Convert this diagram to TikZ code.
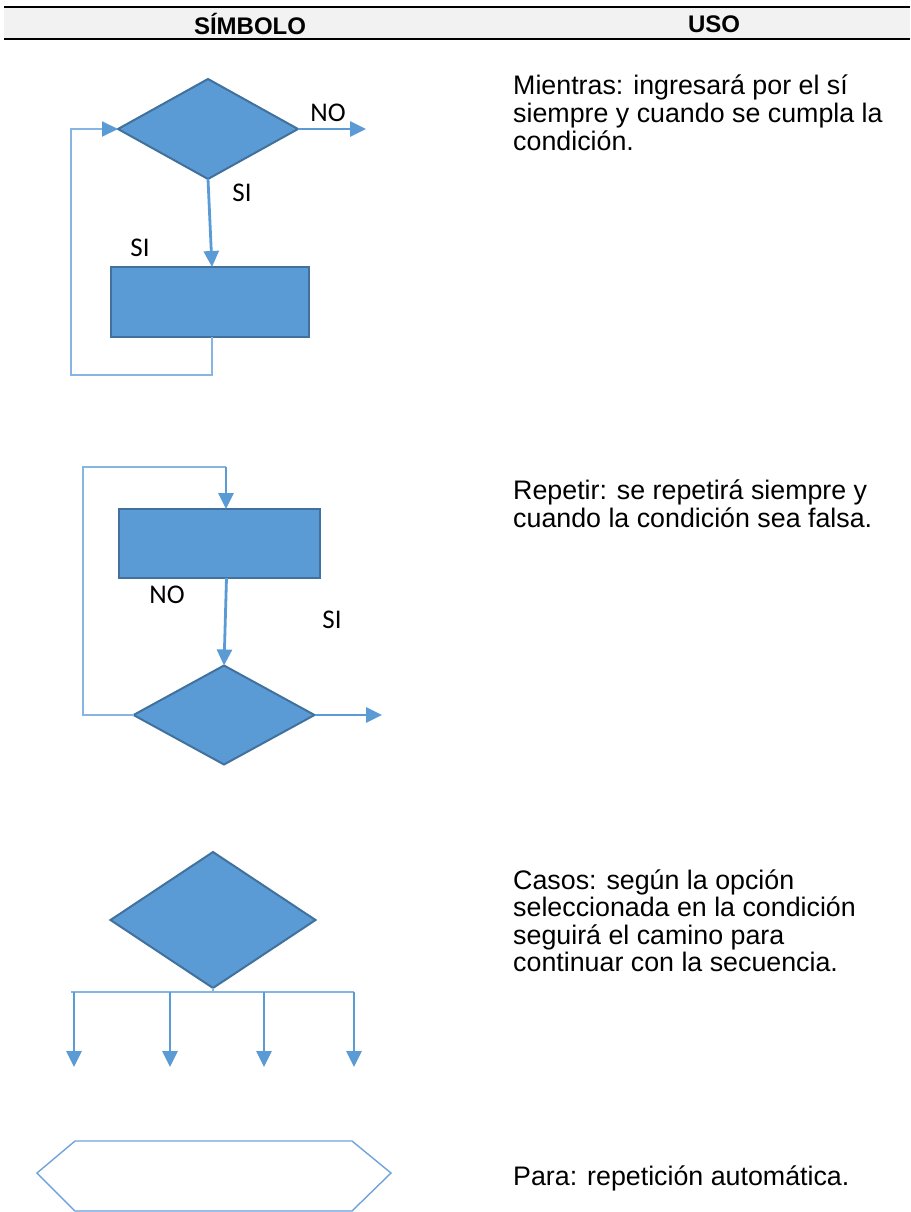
\documentclass[tikz,border=0pt]{standalone}
\usepackage{fontspec}
\setmainfont{Liberation Sans}
\newfontfamily\labelfont{Carlito}
\usetikzlibrary{shapes.geometric,arrows.meta,calc}
\definecolor{shapefill}{HTML}{5B9BD5}
\definecolor{shapeedge}{HTML}{41719C}
\definecolor{flow}{HTML}{5B9BD5}
\definecolor{loopcol}{HTML}{86B4E3}
\definecolor{hexcol}{HTML}{6FA3DC}
\definecolor{headgray}{HTML}{F2F2F2}
\begin{document}
\begin{tikzpicture}[x=1pt,y=-1pt,
  decision/.style={diamond, draw=shapeedge, fill=shapefill, line width=2pt,
    inner sep=0pt, outer sep=0pt},
  process/.style={rectangle, draw=shapeedge, fill=shapefill, line width=2pt,
    inner sep=0pt, outer sep=0pt},
  flowarrow/.style={draw=flow, line width=2.8pt, -{Triangle[length=16pt,width=15pt]}},
  loopline/.style={draw=loopcol, line width=2pt},
  loopin/.style={loopline, -{Triangle[length=16pt,width=15pt,color=flow]}},
  headtext/.style={font=\fontsize{24}{26}\selectfont\bfseries, inner sep=0pt},
  usetext/.style={font=\fontsize{26.8}{28}\selectfont, anchor=base west, inner sep=0pt},
  branchlabel/.style={font=\labelfont\fontsize{27}{29}\selectfont, inner sep=0pt}]
\useasboundingbox (0,0) rectangle (910,1212);

% table header
\fill[headgray] (4,8) rectangle (910,39);
\draw[line width=2.5pt] (4,7) -- (910,7);
\draw[line width=2.5pt] (4,39) -- (910,39);
\node[headtext] (hsym) at (250,24) {SÍMBOLO};
\node[headtext] (huso) at (714,24) {USO};

% --- Mientras ---
\node[decision, minimum width=180pt, minimum height=100pt] (d1) at (208,129) {};
\node[process, minimum width=198pt, minimum height=70pt] (r1) at (210,302) {};
\coordinate (no1) at (366,129);
\coordinate (lp1) at (71,375);
\draw[flowarrow] (d1.east) -- (no1);
\draw[flowarrow] (d1.south) -- ([xshift=2pt]r1.north);
\draw[loopin] ([xshift=2pt]r1.south) |- (lp1) |- (d1.west);
\node[branchlabel] (lno1) at (328,113) {NO};
\node[branchlabel] (lsi1) at (242,193) {SI};
\node[branchlabel] (lsi2) at (140,248) {SI};

\node[usetext] (m1) at (513,95) {Mientras: ingresará por el sí};
\node[usetext] (m2) at (513,122.5) {siempre y cuando se cumpla la};
\node[usetext] (m3) at (513,150) {condición.};

% --- Repetir ---
\node[process, minimum width=201pt, minimum height=69pt] (r2) at (219.5,543.5) {};
\node[decision, minimum width=181pt, minimum height=99pt] (d2) at (224,715) {};
\coordinate (tp2) at (226,467);
\coordinate (lp2) at (83,467);
\coordinate (out2) at (382,715);
\draw[loopline] (d2.west) -| (lp2) -- (tp2);
\draw[flowarrow] (tp2) -- (tp2 |- r2.north);
\draw[flowarrow] ([xshift=7pt]r2.south) -- (d2.north);
\draw[flowarrow] (d2.east) -- (out2);
\node[branchlabel] (lno2) at (167,595) {NO};
\node[branchlabel] (lsi3) at (332,620) {SI};

\node[usetext] (p1) at (513,499) {Repetir: se repetirá siempre y};
\node[usetext] (p2) at (513,527) {cuando la condición sea falsa.};

% --- Casos ---
\node[decision, minimum width=205pt, minimum height=136pt] (d3) at (213,920) {};
\coordinate (bus) at (213,992);
\coordinate (busl) at (71,992);
\coordinate (busr) at (354,992);
\draw[loopline] (d3.south) -- (bus);
\draw[loopline, line width=2.4pt] (busl) -- (busr);
\foreach \bx [count=\i] in {74,170,264,354} {
  \coordinate (c\i) at (\bx,992);
  \coordinate (e\i) at (\bx,1067);
  \draw[flowarrow] (c\i) -- (e\i);
}

\node[usetext] (k1) at (513,889) {Casos: según la opción};
\node[usetext] (k2) at (513,916.5) {seleccionada en la condición};
\node[usetext] (k3) at (513,944) {seguirá el camino para};
\node[usetext] (k4) at (513,971) {continuar con la secuencia.};

% --- Para ---
\draw[hexcol, line width=1.4pt, line join=miter]
  (75,1211) -- (37,1173) -- (75,1141) -- (352,1141) -- (391,1173) -- (352,1211);
\draw[hexcol!70, line width=1.4pt] (352,1211) -- (75,1211);

\node[usetext] (f1) at (513,1185) {Para: repetición automática.};
\end{tikzpicture}
\end{document}
